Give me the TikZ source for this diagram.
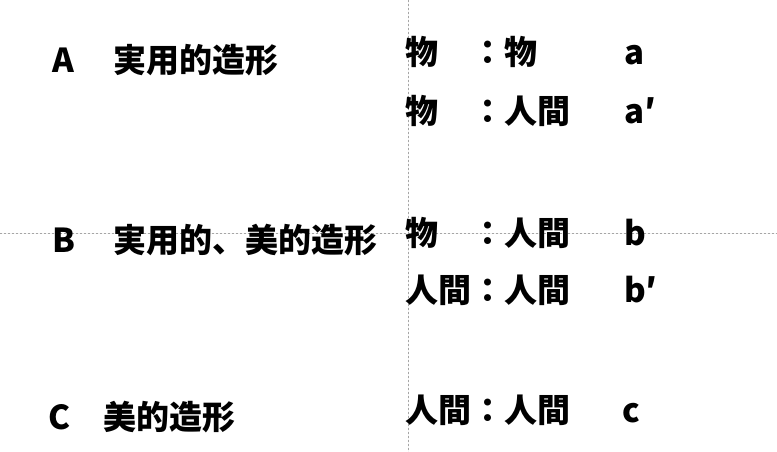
\documentclass[tikz,border=0pt]{standalone}
\usepackage{fontspec}
\newfontfamily\cjk{Noto Sans CJK JP}[BoldFont={Noto Sans CJK JP Black}]
\usepackage{tikz}

\begin{document}
\begin{tikzpicture}
    [x=1pt,y=-1pt, line cap=round,
     txt/.style={anchor=base west,inner sep=0pt,font=\cjk\bfseries\fontsize{33}{38}\selectfont},
     guide/.style={gray!70,very thin,dash pattern=on 2pt off 2pt}]
%frame
\useasboundingbox (0,0) rectangle (777,452);
%dashed guides
\draw[guide] (408,0) -- (408,452);
\draw[guide] (0,233) -- (777,233);

%left column
\node[txt] (A)  at (52,73)   {A};
\node[txt] (tA) at (113,73)  {実用的造形};
\node[txt] (B)  at (52,252)  {B};
\node[txt] (tB) at (113,252) {実用的、美的造形};
\node[txt] (C)  at (48,429)  {C};
\node[txt] (tC) at (103,429) {美的造形};

%right column
\node[txt] (r1) at (405,65)  {物　：物};
\node[txt] (a1) at (624,65)  {a};
\node[txt] (r2) at (405,123) {物　：人間};
\node[txt] (a2) at (624,123) {a′};
\node[txt] (r3) at (405,245) {物　：人間};
\node[txt] (b1) at (624,245) {b};
\node[txt] (r4) at (405,302) {人間：人間};
\node[txt] (b2) at (624,302) {b′};
\node[txt] (r5) at (405,422) {人間：人間};
\node[txt] (c1) at (622,422) {c};

\end{tikzpicture}
\end{document}
